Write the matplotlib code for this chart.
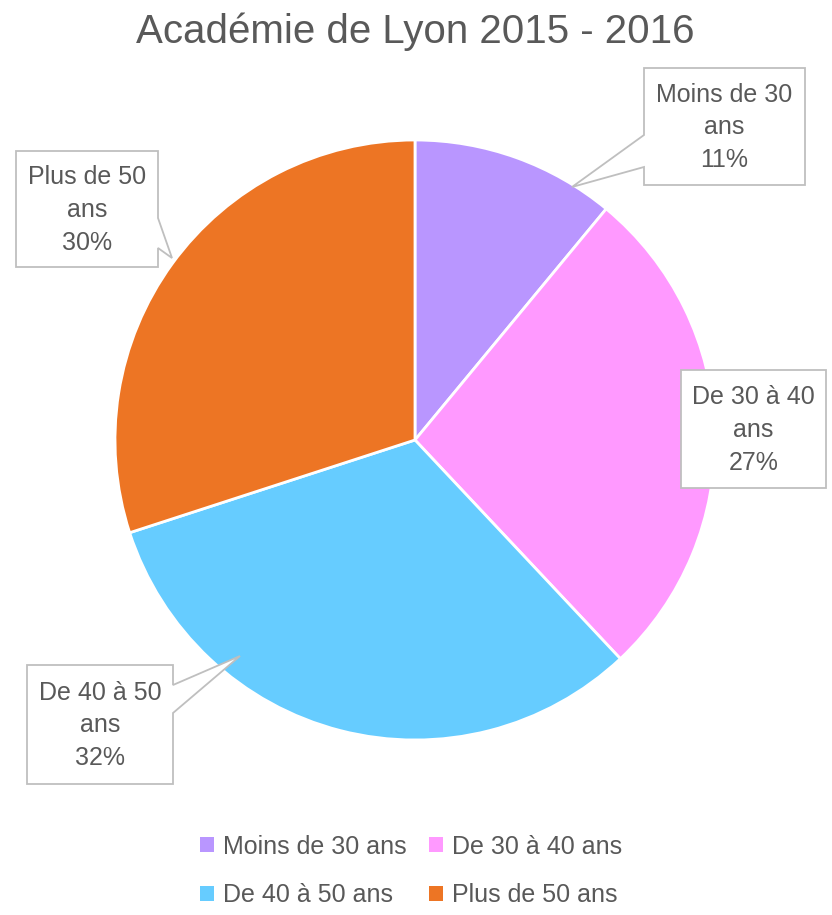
import matplotlib
matplotlib.use("Agg")
import matplotlib.pyplot as plt
from matplotlib.patches import Polygon

plt.rcParams['font.family'] = ['Liberation Sans', 'DejaVu Sans']

title = "Académie de Lyon 2015 - 2016"
categories = ["Moins de 30 ans", "De 30 à 40 ans", "De 40 à 50 ans", "Plus de 50 ans"]
label_lines = ["Moins de 30\nans", "De 30 à 40\nans", "De 40 à 50\nans", "Plus de 50\nans"]
values = [11, 27, 32, 30]
colors = ["#B996FF", "#FF99FF", "#66CCFF", "#ED7524"]

W, H = 832, 915
fig = plt.figure(figsize=(W / 100, H / 100), dpi=100)
ax = fig.add_axes([0, 0, 1, 1])

def Y(y):
    return H - y

cx, cy, r = 415, 440, 300
wedges, _ = ax.pie(values, colors=colors, startangle=90, counterclock=False,
                   center=(cx, Y(cy)), radius=r, frame=True,
                   wedgeprops=dict(edgecolor='white', linewidth=2))
ax.set_xlim(0, W)
ax.set_ylim(0, H)
ax.set_aspect('equal')
ax.axis('off')

txt_color = "#595959"
edge = "#BFBFBF"

boxes = [
    dict(box=(644, 68, 805, 185), ptr=("left", 135, 167, (572, 187))),
    dict(box=(681, 370, 826, 488), ptr=None),
    dict(box=(27, 665, 173, 784), ptr=("right", 685, 713, (240, 656))),
    dict(box=(16, 151, 158, 267), ptr=("right", 218, 248, (172, 258))),
]

for i, b in enumerate(boxes):
    l, t, rr, bt = b["box"]
    p = b["ptr"]
    if p is None:
        pts = [(l, t), (rr, t), (rr, bt), (l, bt)]
    elif p[0] == "left":
        _, y1, y2, tip = p
        pts = [(l, t), (rr, t), (rr, bt), (l, bt), (l, y2), tip, (l, y1)]
    else:
        _, y1, y2, tip = p
        pts = [(l, t), (rr, t), (rr, y1), tip, (rr, y2), (rr, bt), (l, bt)]
    poly = Polygon([(x, Y(y)) for x, y in pts], closed=True, facecolor='white',
                   edgecolor=edge, linewidth=1.3, zorder=5)
    ax.add_patch(poly)
    ax.text((l + rr) / 2, Y((t + bt) / 2 + 1), f"{label_lines[i]}\n{values[i]}%",
            ha='center', va='center', fontsize=18, color=txt_color,
            linespacing=1.45, zorder=6)

ax.text(415, Y(32), title, ha='center', va='center', fontsize=29, color=txt_color)

order = [0, 2, 1, 3]
leg = fig.legend([wedges[i] for i in order], [categories[i] for i in order],
                 loc='upper center', bbox_to_anchor=(0.494, 1 - 812 / H),
                 ncol=2, frameon=False, fontsize=18, handlelength=0.55, handleheight=0.55,
                 handletextpad=0.35, columnspacing=0.9, labelspacing=1.0)
for t in leg.get_texts():
    t.set_color(txt_color)
for h in leg.legend_handles:
    h.set_linewidth(0)

fig.savefig("out.png", dpi=100)
